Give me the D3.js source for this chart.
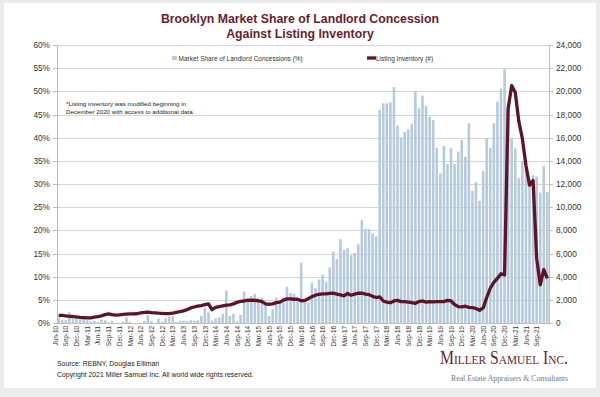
<!DOCTYPE html>
<meta charset="utf-8">
<style>
body { margin: 0; background: #ececec; }
svg { display: block; font-family: "Liberation Sans", Arial, sans-serif; }
.grid line { stroke: #d4d4d4; shape-rendering: crispEdges; }
.grid path { stroke-width: 0; }
.axis path, .axis line { stroke: #bdbdbd; shape-rendering: crispEdges; }
.axis text { fill: #333; }
</style>
<body>
<script src="https://d3js.org/d3.v7.min.js"></script>
<script>

// monthly data, Jun-10 .. Nov-21
var months = d3.timeMonth.range(new Date(2010, 5, 1), new Date(2021, 11, 1));

// market share of landlord concessions (%)
var concessionPct = [
  1.3, 0.6, 0.7, 2.3, 0.9, 1.2, 0.8, 1.0, 0.6, 0.4, 0.5, 0.2,
  0.7, 0.6, 0.1, 0.5, 0, 0, 0.3, 1.2, 0.2, 0, 0, 0,
  0.4, 1.7, 0.4, 0, 1.0, 0.3, 1.0, 1.4, 1.5, 0.2, 0.4, 0.5,
  0.4, 0.6, 0.5, 0.6, 1.5, 3.3, 2.3, 0.5, 1.0, 1.2, 2.0, 7.0,
  1.5, 2.0, 0.3, 1.8, 6.8, 5.5, 5.8, 6.3, 5.3, 5.5, 4.0, 1.5,
  3.0, 5.5, 4.5, 5.5, 7.8, 6.5, 6.3, 5.0, 13.0, 4.6, 4.4, 8.7,
  7.5, 9.4, 10.4, 8.9, 12.0, 15.4, 13.8, 18.1, 15.8, 16.1, 14.6, 15.1,
  17.0, 22.2, 20.4, 20.3, 19.3, 18.7, 46.0, 47.4, 47.4, 47.6, 50.9, 42.6,
  40.1, 41.2, 41.8, 42.9, 50.1, 46.3, 49.1, 46.8, 44.5, 43.8, 37.8, 32.3,
  38.2, 34.3, 37.7, 34.3, 37.0, 39.5, 35.9, 43.1, 28.5, 30.4, 26.4, 32.8,
  39.8, 37.8, 43.1, 47.8, 50.6, 54.8, 47.0, 39.9, 37.7, 31.3, 35.0, 33.7,
  31.0, 31.9, 31.6, 28.1, 33.9, 28.3
];

// listing inventory (#)
var inventory = [
  650, 660, 620, 580, 560, 520, 490, 470, 450, 440, 500, 560,
  620, 720, 780, 720, 680, 700, 750, 770, 780, 780, 800, 880,
  920, 930, 900, 880, 850, 830, 810, 820, 860, 920, 980, 1050,
  1150, 1300, 1380, 1450, 1500, 1580, 1650, 1150, 1350, 1420, 1480, 1540,
  1570, 1650, 1780, 1860, 1900, 1950, 1970, 1960, 1920, 1850, 1650, 1620,
  1650, 1760, 1800, 1980, 2080, 2080, 2050, 2050, 1920, 1950, 2100, 2280,
  2400, 2480, 2520, 2520, 2560, 2580, 2500, 2430, 2350, 2550, 2400, 2500,
  2580, 2570, 2500, 2450, 2300, 2200, 2250, 1900, 1800, 1750, 1900, 1950,
  1850, 1850, 1800, 1750, 1700, 1850, 1900, 1800, 1850, 1820, 1840, 1840,
  1850, 1950, 1900, 1600, 1420, 1400, 1450, 1350, 1330, 1250, 1100, 1300,
  2200, 3000, 3500, 3850, 4250, 4150, 18500, 20500, 19900, 17400, 15900, 13600,
  11900, 12300, 5600, 3300, 4600, 3850
];

var pctTicks = [0, 5, 10, 15, 20, 25, 30, 35, 40, 45, 50, 55, 60];
var invTicks = [0, 2000, 4000, 6000, 8000, 10000, 12000, 14000, 16000, 18000, 20000, 22000, 24000];

var W = 600, H = 397;
var margin = {top: 45, right: 51, bottom: 74, left: 57},
    width = W - margin.left - margin.right,
    height = H - margin.top - margin.bottom;

var fmtMonth = d3.timeFormat("%b-%y");

var svg = d3.select("body").append("svg")
    .attr("width", W)
    .attr("height", H);

// white card on grey frame
svg.append("rect")
    .attr("x", 4).attr("y", 3)
    .attr("width", 592).attr("height", 385)
    .attr("fill", "#fff");

var g = svg.append("g")
    .attr("transform", "translate(" + margin.left + "," + margin.top + ")");

var x = d3.scaleBand()
    .domain(months)
    .range([0, width])
    .paddingInner(0.28)
    .paddingOuter(0.1);

var y = d3.scaleLinear().domain([0, 60]).range([height, 0]);
var y2 = d3.scaleLinear().domain([0, 24000]).range([height, 0]);

// gridlines
g.append("g")
    .attr("class", "grid")
    .call(d3.axisLeft(y).tickValues(pctTicks).tickSize(-width).tickFormat(""));

// bars
g.selectAll(".bar")
    .data(concessionPct)
  .enter().append("rect")
    .attr("class", "bar")
    .attr("x", function(d, i) { return x(months[i]); })
    .attr("width", x.bandwidth())
    .attr("y", function(d) { return y(d); })
    .attr("height", function(d) { return height - y(d); })
    .attr("fill", "#b5cadd");

// inventory line
var line = d3.line()
    .x(function(d, i) { return x(months[i]) + x.bandwidth() / 2; })
    .y(function(d) { return y2(d); });

g.append("path")
    .datum(inventory)
    .attr("fill", "none")
    .attr("stroke", "#5c1426")
    .attr("stroke-width", 3.3)
    .attr("stroke-linejoin", "round")
    .attr("d", line);

// left axis
g.append("g")
    .attr("class", "axis")
    .call(d3.axisLeft(y).tickValues(pctTicks).tickSize(4).tickPadding(3)
      .tickFormat(function(d) { return d + "%"; }))
    .selectAll("text").style("font-size", "8.3px");

// right axis
g.append("g")
    .attr("class", "axis")
    .attr("transform", "translate(" + width + ",0)")
    .call(d3.axisRight(y2).tickValues(invTicks).tickSize(4).tickPadding(3)
      .tickFormat(d3.format(",")))
    .selectAll("text").style("font-size", "8.3px");

// bottom axis: every third month
var xAxis = g.append("g")
    .attr("class", "axis")
    .attr("transform", "translate(0," + height + ")")
    .call(d3.axisBottom(x)
      .tickValues(months.filter(function(d, i) { return i % 3 === 0; }))
      .tickSize(0)
      .tickFormat(fmtMonth));
xAxis.select(".domain").attr("stroke", "#bdbdbd");
xAxis.selectAll("text")
    .style("font-size", "6.4px")
    .style("text-anchor", "end")
    .attr("dy", "-0.15em")
    .attr("y", 0)
    .attr("x", -3)
    .attr("transform", "rotate(-90)");

// title
var title = svg.append("g")
    .attr("text-anchor", "middle")
    .style("font-weight", "bold")
    .style("font-size", "12.3px")
    .attr("fill", "#6b1c2c");
title.append("text").attr("x", 300).attr("y", 23).text("Brooklyn Market Share of Landlord Concession");
title.append("text").attr("x", 300).attr("y", 38).text("Against Listing Inventory");

// legend
var legend = svg.append("g").style("font-size", "6.5px").attr("fill", "#333");
legend.append("rect").attr("x", 172).attr("y", 56).attr("width", 5).attr("height", 4).attr("fill", "#b5cadd");
legend.append("text").attr("x", 178.5).attr("y", 60.5).text("Market Share of Landlord Concessions (%)");
legend.append("line").attr("x1", 367).attr("x2", 376).attr("y1", 58).attr("y2", 58)
    .attr("stroke", "#5c1426").attr("stroke-width", 3.3);
legend.append("text").attr("x", 376).attr("y", 60.5).text("Listing Inventory (#)");

// footnote
var note = svg.append("g").style("font-size", "6.2px").attr("fill", "#222");
note.append("text").attr("x", 66).attr("y", 105.5).text("*Listing inventory was modified beginning in");
note.append("text").attr("x", 66).attr("y", 113.5).text("December 2020 with access to additional data.");

// source
var src = svg.append("g").style("font-size", "6.9px").attr("fill", "#222");
src.append("text").attr("x", 57).attr("y", 366).text("Source: REBNY, Douglas Elliman");
src.append("text").attr("x", 57).attr("y", 377).text("Copyright 2021 Miller Samuel Inc.  All world wide rights reserved.");

// logo
svg.append("text")
    .attr("x", 440).attr("y", 364)
    .attr("textLength", 128)
    .attr("lengthAdjust", "spacingAndGlyphs")
    .style("font-family", "'Liberation Serif', 'DejaVu Serif', serif")
    .style("font-variant", "small-caps")
    .style("font-size", "18px")
    .attr("fill", "#6b1c2c")
    .text("Miller Samuel Inc.");
svg.append("text")
    .attr("x", 451).attr("y", 381)
    .attr("textLength", 117)
    .attr("lengthAdjust", "spacingAndGlyphs")
    .style("font-family", "'Liberation Serif', 'DejaVu Serif', serif")
    .style("font-size", "8.6px")
    .attr("fill", "#777")
    .text("Real Estate Appraisers & Consultants");

</script>
</body>
